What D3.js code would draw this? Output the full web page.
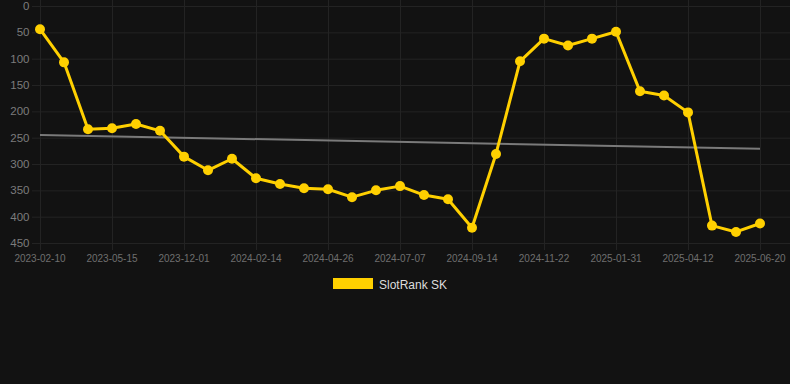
<!DOCTYPE html>
<html>
<head>
<meta charset="utf-8">
<script src="https://cdn.jsdelivr.net/npm/d3@7"></script>
<style>
  html, body { margin: 0; padding: 0; background: #121212; }
  svg { display: block; font-family: "Liberation Sans", Arial, Helvetica, sans-serif; }
</style>
</head>
<body>
<div id="chart"></div>
<script>
// dates on the category axis (only every 3rd one is labelled)
const dates = [
  "2023-02-10", "2023-03-14", "2023-04-13", "2023-05-15", "2023-07-24", "2023-10-05",
  "2023-12-01", "2023-12-25", "2024-01-20", "2024-02-14", "2024-03-09", "2024-04-02",
  "2024-04-26", "2024-05-20", "2024-06-13", "2024-07-07", "2024-07-30", "2024-08-22",
  "2024-09-14", "2024-10-07", "2024-10-30", "2024-11-22", "2024-12-15", "2025-01-08",
  "2025-01-31", "2025-02-23", "2025-03-19", "2025-04-12", "2025-05-05", "2025-05-28",
  "2025-06-20"
];
// rank values (lower is better, axis reversed)
const ranks = [
  44, 107, 234, 232, 224, 237,
  286, 312, 290, 327, 338, 346,
  348, 363, 350, 342, 359, 367,
  421, 281, 105, 62, 75, 62,
  49, 162, 170, 202, 417, 429,
  413
];
// trend line: value at first and last date
const trend = [245, 271];
const yTicks = [0, 50, 100, 150, 200, 250, 300, 350, 400, 450];
const seriesName = "SlotRank SK";

const width = 790, height = 384;
const gold = "#FFD000";

const svg = d3.select("#chart").append("svg")
    .attr("width", width)
    .attr("height", height);

svg.append("rect")
    .attr("width", width)
    .attr("height", height)
    .attr("fill", "#121212");

const x = d3.scalePoint()
    .domain(dates)
    .range([40, 760]);

const y = d3.scaleLinear()
    .domain([0, 450])
    .range([6, 243]);

// horizontal grid + y labels
const yAxis = svg.append("g")
    .attr("transform", "translate(32,0)")
    .call(d3.axisRight(y).tickValues(yTicks).tickSize(width - 32).tickFormat(""));
yAxis.select(".domain").remove();
yAxis.selectAll("line").attr("stroke", "#232323").attr("stroke-width", 1);

svg.append("g")
    .selectAll("text")
    .data(yTicks)
    .join("text")
    .attr("x", 29.5)
    .attr("y", d => y(d))
    .attr("dy", "0.36em")
    .attr("text-anchor", "end")
    .attr("font-size", 11.5)
    .attr("fill", "#7c7c7c")
    .text(d => d);

// vertical grid + x labels (every 3rd date)
const shownDates = dates.filter((d, i) => i % 3 === 0);
const xAxis = svg.append("g")
    .attr("transform", "translate(0,0)")
    .call(d3.axisBottom(x).tickValues(shownDates).tickSize(250).tickFormat(""));
xAxis.select(".domain").remove();
xAxis.selectAll("line").attr("stroke", "#232323").attr("stroke-width", 1);

svg.append("g")
    .selectAll("text")
    .data(shownDates)
    .join("text")
    .attr("x", d => x(d))
    .attr("y", 262)
    .attr("text-anchor", "middle")
    .attr("font-size", 10)
    .attr("fill", "#6f6f6f")
    .text(d => d);

// trend line
svg.append("line")
    .attr("x1", x(dates[0]))
    .attr("y1", y(trend[0]))
    .attr("x2", x(dates[dates.length - 1]))
    .attr("y2", y(trend[1]))
    .attr("stroke", "#7a7a7a")
    .attr("stroke-width", 2);

// series line
const line = d3.line()
    .x((d, i) => x(dates[i]))
    .y(d => y(d));

svg.append("path")
    .datum(ranks)
    .attr("fill", "none")
    .attr("stroke", gold)
    .attr("stroke-width", 3)
    .attr("stroke-linejoin", "round")
    .attr("d", line);

svg.append("g")
    .selectAll("circle")
    .data(ranks)
    .join("circle")
    .attr("cx", (d, i) => x(dates[i]))
    .attr("cy", d => y(d))
    .attr("r", 5)
    .attr("fill", gold);

// legend
const legend = svg.append("g").attr("transform", "translate(333,278)");
legend.append("rect")
    .attr("width", 40)
    .attr("height", 11)
    .attr("fill", gold);
legend.append("text")
    .attr("x", 46)
    .attr("y", 10.5)
    .attr("font-size", 12)
    .attr("fill", "#dddddd")
    .text(seriesName);
</script>
</body>
</html>
